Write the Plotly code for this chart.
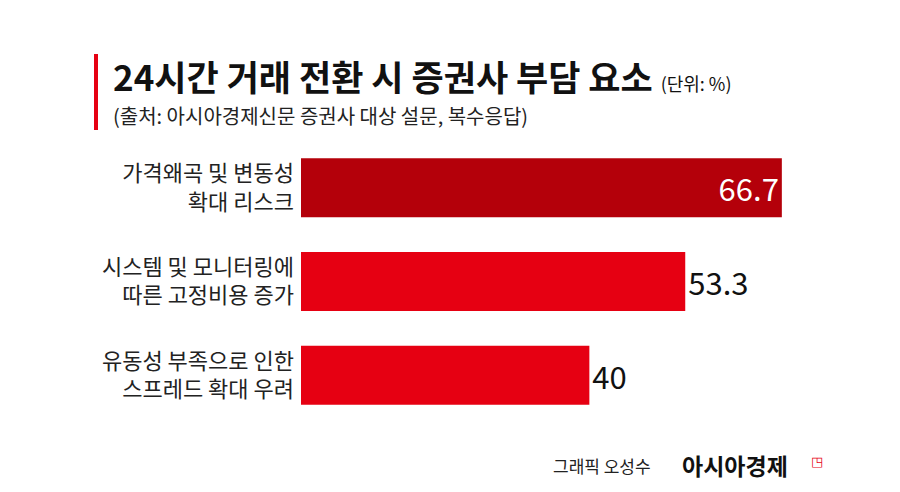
import plotly.graph_objects as go

categories = ["가격왜곡 및 변동성<br>확대 리스크", "시스템 및 모니터링에<br>따른 고정비용 증가", "유동성 부족으로 인한<br>스프레드 확대 우려"]
values = [66.7, 53.3, 40]
value_labels = ["66.7", "53.3", "40"]
colors = ["#b4000a", "#e60012", "#e60012"]

F = "Noto Sans CJK KR"
L, T, B = 293, 133, 78
W, H = 900 - L, 492 - T - B
def px(x): return (x - L) / W
def py(y): return (492 - B - y) / H

fig = go.Figure()
fig.add_trace(go.Bar(
    y=categories, x=values, orientation="h", marker=dict(color=colors, line=dict(width=0)),
    width=0.63, text=value_labels, textposition=["inside", "outside", "outside"],
    insidetextanchor="end", cliponaxis=False,
    textfont=dict(family=F, size=31, color=["white", "#111", "#111"]),
    hoverinfo="skip"))
fig.update_layout(
    width=900, height=492, margin=dict(l=L, r=0, t=T, b=B),
    paper_bgcolor="white", plot_bgcolor="white", showlegend=False,
    xaxis=dict(range=[0, 84.2], visible=False),
    yaxis=dict(autorange="reversed", showgrid=False, ticks="", ticklabelstandoff=6,
               tickfont=dict(family=F, size=22, color="#222")),
    shapes=[dict(type="rect", xref="paper", yref="paper", x0=px(86), x1=px(90),
                 y0=py(122), y1=py(46), fillcolor="#e60012", line=dict(width=0))],
    annotations=[
        dict(xref="paper", yref="paper", x=px(103), y=py(68), xanchor="left", yanchor="middle",
             text="<b>24시간 거래 전환 시 증권사 부담 요소</b> <span style='font-size:18px'>(단위: %)</span>",
             showarrow=False, font=dict(family=F, size=35, color="#111")),
        dict(xref="paper", yref="paper", x=px(103), y=py(107), xanchor="left", yanchor="middle",
             text="(출처: 아시아경제신문 증권사 대상 설문, 복수응답)",
             showarrow=False, font=dict(family=F, size=20, color="#222")),
        dict(xref="paper", yref="paper", x=px(543), y=py(457), xanchor="left", yanchor="middle",
             text="그래픽 오성수", showarrow=False, font=dict(family=F, size=17, color="#222")),
        dict(xref="paper", yref="paper", x=px(672), y=py(457), xanchor="left", yanchor="middle",
             text="<b>아시아경제</b>", showarrow=False, font=dict(family=F, size=23, color="#111")),
        dict(xref="paper", yref="paper", x=px(801), y=py(452), xanchor="left", yanchor="middle",
             text="◳", showarrow=False, font=dict(family=F, size=13, color="#e60012")),
    ],
)
fig.write_html("out.html")
